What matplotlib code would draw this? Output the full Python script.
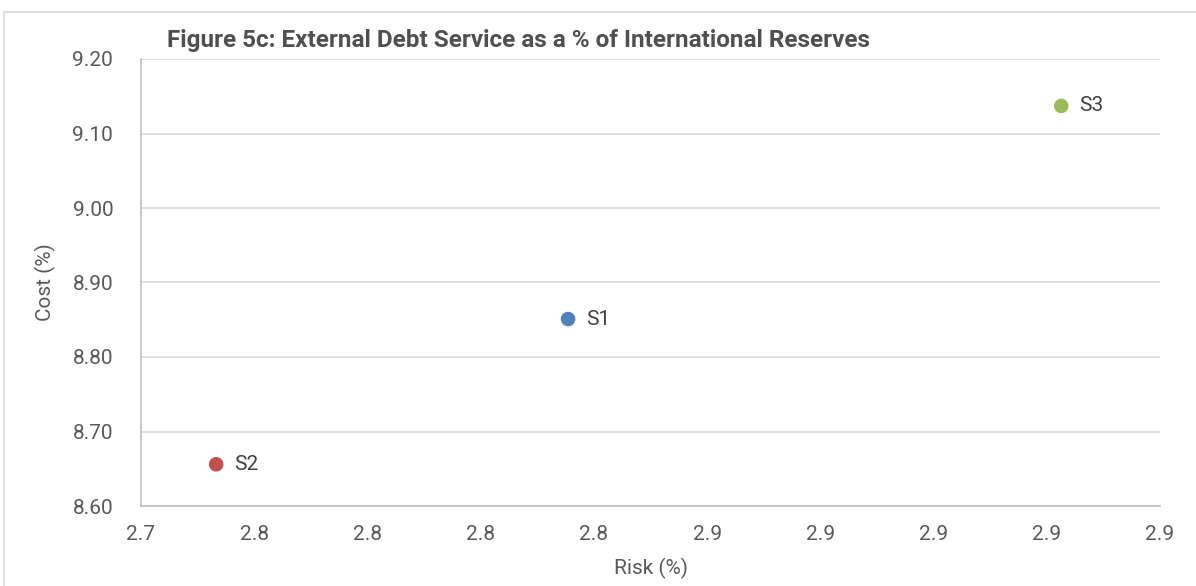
import matplotlib.pyplot as plt
from matplotlib.patches import Rectangle

# scenario points: risk vs cost
scenarios = ['S1', 'S2', 'S3']
risk = [2.8193, 2.7416, 2.9282]
cost = [8.851, 8.656, 9.137]
colors = ['#4F81BD', '#C0504D', '#9BBB59']

x_ticks = [2.725, 2.75, 2.775, 2.80, 2.825, 2.85, 2.875, 2.90, 2.925, 2.95]
x_tick_labels = ['2.7', '2.8', '2.8', '2.8', '2.8', '2.9', '2.9', '2.9', '2.9', '2.9']
y_ticks = [8.60, 8.70, 8.80, 8.90, 9.00, 9.10, 9.20]

plt.rcParams['font.family'] = ['Roboto', 'DejaVu Sans']
grey = '#595959'

fig = plt.figure(figsize=(11.96, 5.86), dpi=100)
# chart frame
fig.patches.append(Rectangle((4 / 1196, -0.1), 1.1, 1 - 12 / 586 + 0.1, transform=fig.transFigure,
                             fill=False, edgecolor='#D9D9D9', linewidth=1.2))

ax = fig.add_axes([141 / 1196, 1 - 506 / 586, (1160 - 141) / 1196, (506 - 59) / 586])
ax.scatter(risk, cost, s=110, c=colors, zorder=3, linewidths=0)
for name, x, y in zip(scenarios, risk, cost):
    ax.annotate(name, (x, y), xytext=(13, 0), textcoords='offset points', va='center',
                fontsize=15, color='#404040')

ax.set_xlim(x_ticks[0], x_ticks[-1])
ax.set_ylim(y_ticks[0], y_ticks[-1])
ax.set_xticks(x_ticks)
ax.set_xticklabels(x_tick_labels)
ax.set_yticks(y_ticks)
ax.set_yticklabels(['%.2f' % v for v in y_ticks])
ax.tick_params(length=0, labelsize=15, colors=grey)
ax.tick_params(axis='x', pad=14)
ax.tick_params(axis='y', pad=20)
ax.grid(axis='y', color='#D9D9D9', linewidth=1.2)
ax.set_axisbelow(True)
for side in ['top', 'right']:
    ax.spines[side].set_visible(False)
for side in ['left', 'bottom']:
    ax.spines[side].set_color('#BFBFBF')
    ax.spines[side].set_linewidth(1.2)

ax.set_xlabel('Risk (%)', fontsize=15, color=grey, labelpad=10)
ax.set_ylabel('Cost (%)', fontsize=15, color=grey, labelpad=12)
fig.text(167 / 1196, 1 - 40 / 586, 'Figure 5c: External Debt Service as a % of International Reserves',
         fontsize=17.5, fontweight='bold', color='#505050', va='center', ha='left')

fig.savefig('out.png', dpi=100)
